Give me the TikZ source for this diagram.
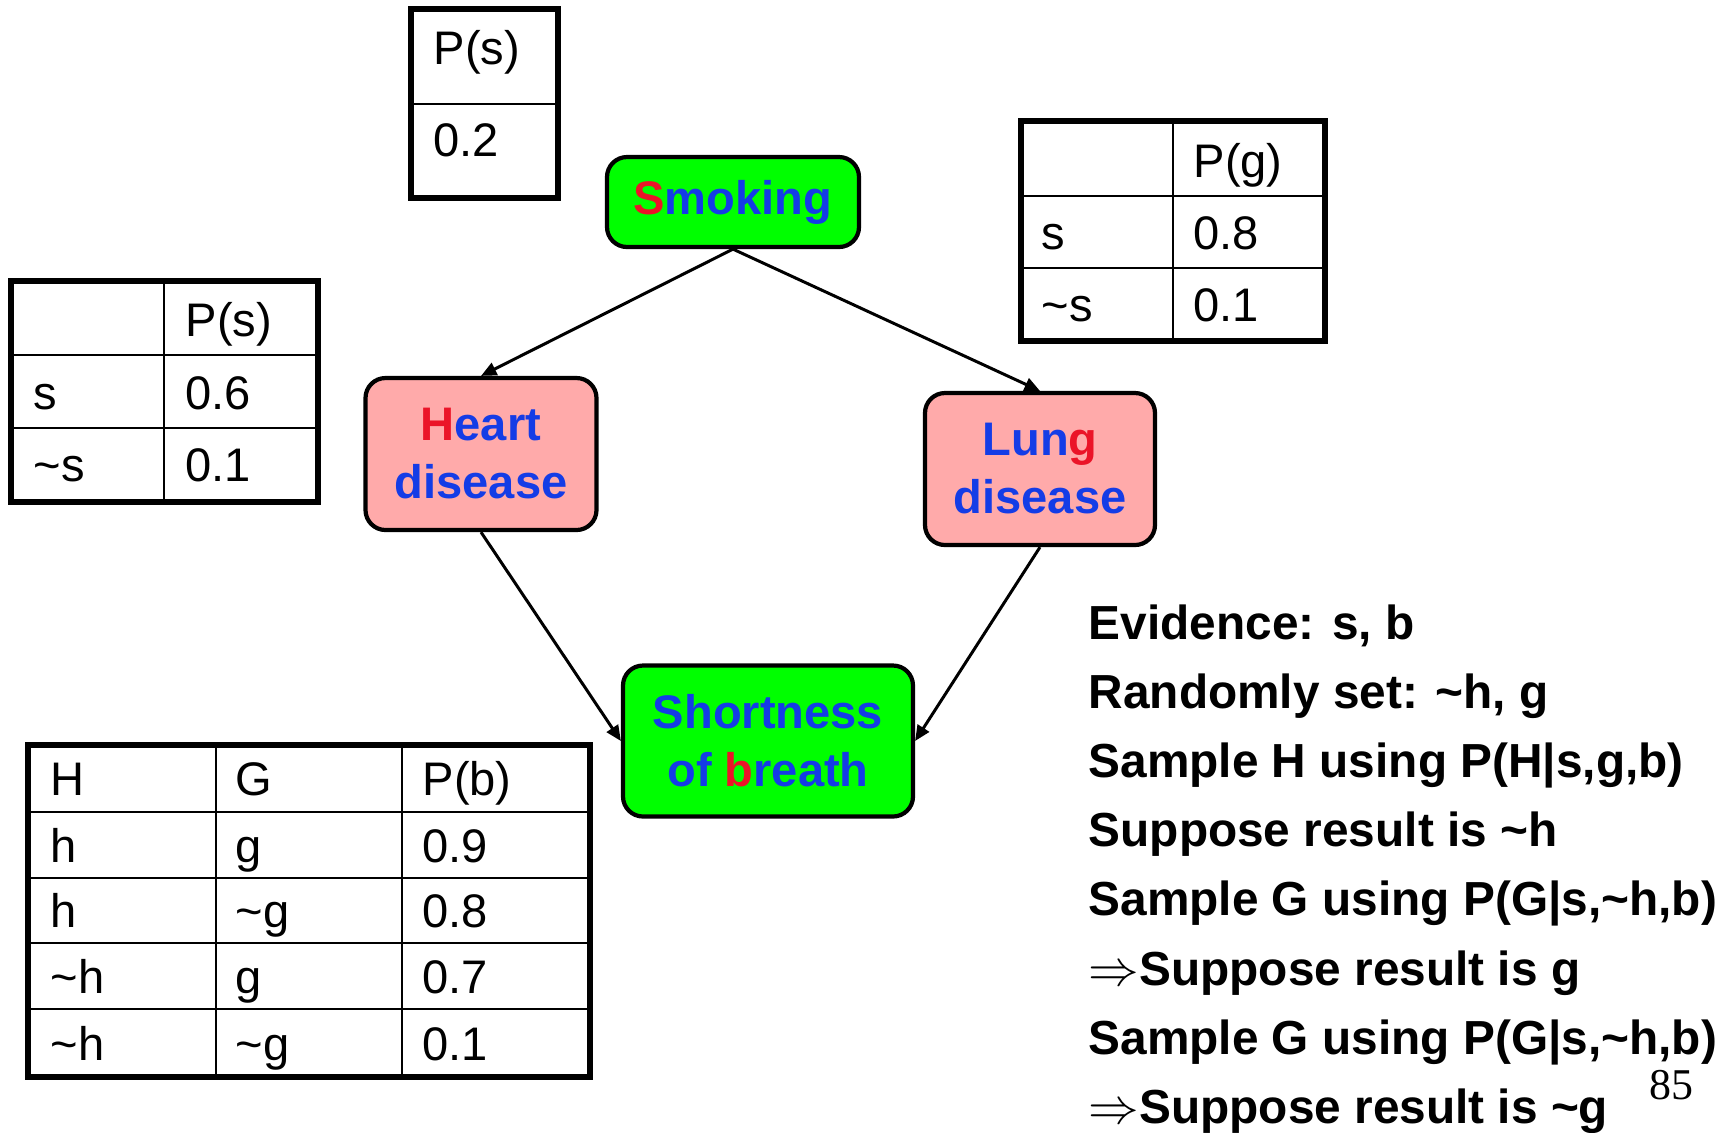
\documentclass[tikz,border=0pt]{standalone}
\usepackage{fontspec}
\setmainfont{Liberation Sans}
\newfontfamily\pagefont{Liberation Serif}
\usetikzlibrary{arrows.meta}

\definecolor{netgreen}{RGB}{0,255,0}
\definecolor{netpink}{RGB}{255,170,170}
\definecolor{netblue}{RGB}{20,60,230}
\definecolor{netred}{RGB}{235,20,40}

\tikzset{
  var/.style={draw=black, line width=1.2pt, rounded corners=2mm, align=center,
    inner sep=0pt, text=netblue, font=\fontsize{13.4}{16.5}\selectfont\bfseries},
  rootvar/.style={var, fill=netgreen},
  midvar/.style={var, fill=netpink},
  cell/.style={anchor=base west, inner sep=0pt, font=\fontsize{13.4}{16}\selectfont},
  frame/.style={line width=1.8pt},
  rule/.style={line width=0.7pt},
  link/.style={line width=0.85pt, -{Triangle[length=4.4pt,width=3.8pt]}},
  say/.style={anchor=base west, inner sep=0pt, font=\fontsize{13.6}{16}\selectfont\bfseries}
}

\begin{document}
\begin{tikzpicture}[x=0.1mm,y=-0.1mm]
        \useasboundingbox (0,0) rectangle (1727,1132);

        % Network nodes
        \node[rootvar, minimum width=25.2mm, minimum height=9mm] (smk) at (733,202)
            {\textcolor{netred}{S}moking};
        \node[midvar, minimum width=23.1mm, minimum height=15.2mm] (hrt) at (481,454)
            {\textcolor{netred}{H}eart\\disease};
        \node[midvar, minimum width=23mm, minimum height=15.2mm] (lng) at (1040,469)
            {Lun\textcolor{netred}{g}\\disease};
        \node[rootvar, minimum width=29mm, minimum height=15.1mm] (sob) at (768,741)
            {Shortness\\of \textcolor{netred}{b}reath};

        % Edges
        \draw[link] (smk.south) -- (hrt.north);
        \draw[link] (smk.south) -- (lng.north);
        \draw[link] (hrt.south) -- (sob.west);
        \draw[link] (lng.south) -- (sob.east);

        % Table for S
        \draw[frame] (411,9) rectangle (558,198);
        \draw[rule] (411,104) -- (558,104);
        \node[cell] (sh) at (433,64) {P(s)};
        \node[cell] (sv) at (433,156) {0.2};

        % Table for H
        \draw[frame] (11,281) rectangle (318,502);
        \draw[rule] (164,281) -- (164,502);
        \draw[rule] (11,355) -- (318,355);
        \draw[rule] (11,428) -- (318,428);
        \node[cell] (hh) at (185,336) {P(s)};
        \node[cell] (hs) at (33,409) {s};
        \node[cell] (hsv) at (185,409) {0.6};
        \node[cell] (hn) at (33,481) {\textasciitilde s};
        \node[cell] (hnv) at (185,481) {0.1};

        % Table for G
        \draw[frame] (1021,121) rectangle (1325,341);
        \draw[rule] (1173,121) -- (1173,341);
        \draw[rule] (1021,196) -- (1325,196);
        \draw[rule] (1021,268) -- (1325,268);
        \node[cell] (gh) at (1193,177) {P(g)};
        \node[cell] (gs) at (1041,249) {s};
        \node[cell] (gsv) at (1193,249) {0.8};
        \node[cell] (gn) at (1041,321) {\textasciitilde s};
        \node[cell] (gnv) at (1193,321) {0.1};

        % Table for B
        \draw[frame] (28,745) rectangle (590,1077);
        \draw[rule] (216,745) -- (216,1077);
        \draw[rule] (402,745) -- (402,1077);
        \foreach \y in {812,878,943,1009}
            \draw[rule] (28,\y) -- (590,\y);
        \node[cell] (bh1) at (50,795) {H};
        \node[cell] (bg1) at (235,795) {G};
        \node[cell] (bp1) at (422,795) {P(b)};
        \node[cell] (bh2) at (50,862) {h};
        \node[cell] (bg2) at (235,862) {g};
        \node[cell] (bp2) at (422,862) {0.9};
        \node[cell] (bh3) at (50,927) {h};
        \node[cell] (bg3) at (235,927) {\textasciitilde g};
        \node[cell] (bp3) at (422,927) {0.8};
        \node[cell] (bh4) at (50,993) {\textasciitilde h};
        \node[cell] (bg4) at (235,993) {g};
        \node[cell] (bp4) at (422,993) {0.7};
        \node[cell] (bh5) at (50,1060) {\textasciitilde h};
        \node[cell] (bg5) at (235,1060) {\textasciitilde g};
        \node[cell] (bp5) at (422,1060) {0.1};

        % Sampling steps
        \node[say] (s1) at (1088,639) {Evidence: s, b};
        \node[say] (s2) at (1088,708) {Randomly set: \textasciitilde h, g};
        \node[say] (s3) at (1088,777) {Sample H using P(H|s,g,b)};
        \node[say] (s4) at (1088,846) {Suppose result is \textasciitilde h};
        \node[say] (s5) at (1088,915) {Sample G using P(G|s,\textasciitilde h,b)};
        \node[say] (s6) at (1088,985) {$\Rightarrow$Suppose result is g};
        \node[say] (s7) at (1088,1054) {Sample G using P(G|s,\textasciitilde h,b)};
        \node[say] (s8) at (1088,1123) {$\Rightarrow$Suppose result is \textasciitilde g};

        % Page number
        \node[font=\pagefont\fontsize{12.5}{14}\selectfont] (pg) at (1671,1085) {85};
\end{tikzpicture}
\end{document}
